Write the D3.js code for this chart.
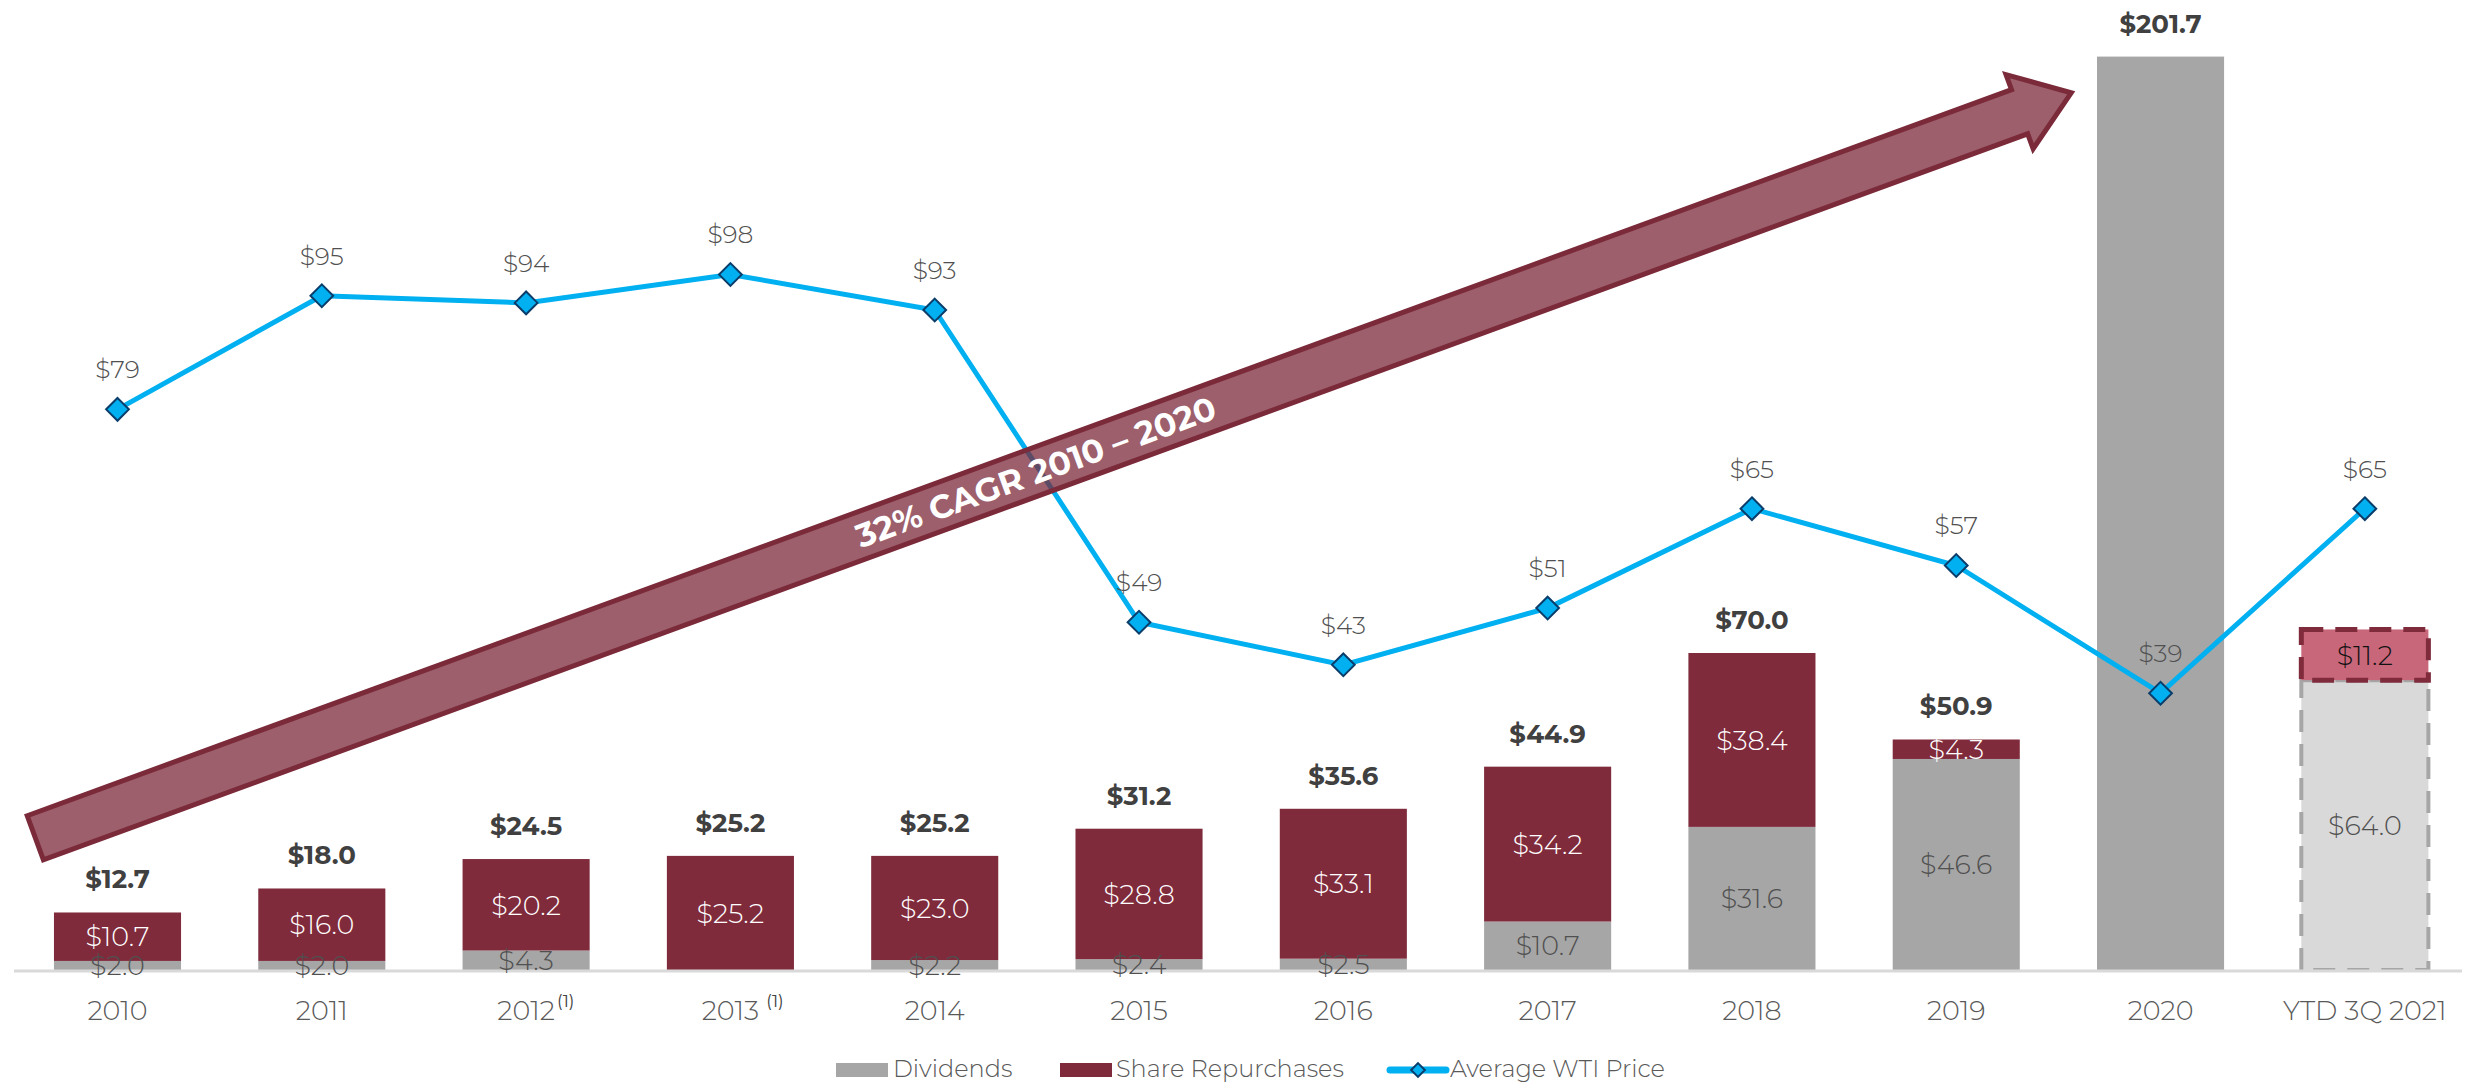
<!DOCTYPE html>
<html>
<head>
<meta charset="utf-8">
<script src="https://cdn.jsdelivr.net/npm/d3@7"></script>
<style>
  body { margin: 0; background: #fff; }
  text { font-family: "Montserrat", "Open Sans", sans-serif; }
</style>
</head>
<body>
<script>
// Capital returned to shareholders ($M) and average WTI price
// ---------------------------------------------
var categories = ['2010', '2011', '2012', '2013', '2014', '2015', '2016',
        '2017', '2018', '2019', '2020', 'YTD 3Q 2021'];
var footnotes = ['', '', '(1)', '(1)', '', '', '', '', '', '', '', ''];
var dividends = [2.0, 2.0, 4.3, 0, 2.2, 2.4, 2.5, 10.7, 31.6, 46.6, 201.7, 64.0];
var repurchases = [10.7, 16.0, 20.2, 25.2, 23.0, 28.8, 33.1, 34.2, 38.4, 4.3, 0, 11.2];
var totals = [12.7, 18.0, 24.5, 25.2, 25.2, 31.2, 35.6, 44.9, 70.0, 50.9, 201.7, null];
var wti = [79, 95, 94, 98, 93, 49, 43, 51, 65, 57, 39, 65];
// which segments carry a value label
var showDividendLabel = [1, 1, 1, 0, 1, 1, 1, 1, 1, 1, 0, 1];
var showRepurchaseLabel = [1, 1, 1, 1, 1, 1, 1, 1, 1, 1, 0, 1];
var cagrText = '32% CAGR 2010 \u2013 2020';

var w = 2468;
var h = 1085;
var baseY = 970;
var topY = 19;

var red = '#7F2B3C';
var gray = '#A6A6A6';
var blue = '#00B0F0';

var svg = d3.select('body').append('svg').attr('width', w).attr('height', h);

var x = d3.scaleBand().domain(categories).range([15.35, 2467]).paddingInner(0.378).paddingOuter(0.189);
var yBar = d3.scaleLinear().domain([0, 210]).range([baseY, topY]);
var yLine = d3.scaleLinear().domain([0, 134]).range([baseY, topY]);

function money(v) { return '$' + v.toFixed(1); }
function cx(i) { return x(categories[i]) + x.bandwidth() / 2; }
var last = categories.length - 1;

// bars
var rows = categories.map(function(c, i) {
    return { c: c, i: i, div: dividends[i], rep: repurchases[i] };
});

svg.selectAll('rect.div').data(rows).enter().append('rect')
.attr('class', 'div')
.attr('x', function(d) { return x(d.c); })
.attr('y', function(d) { return yBar(d.div); })
.attr('width', x.bandwidth())
.attr('height', function(d) { return yBar(0) - yBar(d.div); })
.attr('fill', function(d) { return d.i === last ? '#D9D9D9' : gray; })
.attr('stroke', function(d) { return d.i === last ? gray : 'none'; })
.attr('stroke-width', 4)
.attr('stroke-dasharray', '22,12');

svg.selectAll('rect.rep').data(rows).enter().append('rect')
.attr('class', 'rep')
.attr('x', function(d) { return x(d.c); })
.attr('y', function(d) { return yBar(d.div + d.rep); })
.attr('width', x.bandwidth())
.attr('height', function(d) { return yBar(d.div) - yBar(d.div + d.rep); })
.attr('fill', function(d) { return d.i === last ? '#C9677A' : red; })
.attr('stroke', function(d) { return d.i === last ? red : 'none'; })
.attr('stroke-width', 5)
.attr('stroke-dasharray', '22,12');

// axis line
svg.append('line')
.attr('x1', 14).attr('x2', 2462)
.attr('y1', baseY + 1).attr('y2', baseY + 1)
.attr('stroke', '#D9D9D9').attr('stroke-width', 3);

// WTI line and markers
var line = d3.line()
.x(function(d, i) { return cx(i); })
.y(function(d) { return yLine(d); });

svg.append('path').datum(wti)
.attr('d', line)
.attr('fill', 'none')
.attr('stroke', blue)
.attr('stroke-width', 5);

var diamond = d3.symbol().type(d3.symbolDiamond2).size(330);
svg.selectAll('path.mk').data(wti).enter().append('path')
.attr('class', 'mk')
.attr('d', diamond)
.attr('transform', function(d, i) { return 'translate(' + cx(i) + ',' + yLine(d) + ')'; })
.attr('fill', blue)
.attr('stroke', '#0B3D6B')
.attr('stroke-width', 2);

// CAGR arrow
var tail = [x(categories[0]) - 21, yBar(29)];
var tip = [x(categories[10]) - 22, yBar(194)];
var ang = Math.atan2(tip[1] - tail[1], tip[0] - tail[0]) * 180 / Math.PI;
var L = Math.hypot(tip[0] - tail[0], tip[1] - tail[1]) - 4;
var sh = 23.5, hw = 39.5, hl = 55;
var pts = [[2.5, -sh], [L - hl, -sh], [L - hl, -hw], [L, 0], [L - hl, hw], [L - hl, sh], [2.5, sh]];
var arrow = svg.append('g')
.attr('transform', 'translate(' + tail[0] + ',' + tail[1] + ') rotate(' + ang + ')');
arrow.append('path')
.attr('d', 'M' + pts.join('L') + 'Z')
.attr('fill', 'rgba(123,42,58,0.75)')
.attr('stroke', '#7B2A3A')
.attr('stroke-width', 5)
.attr('stroke-linejoin', 'miter');
arrow.append('text')
.text(cagrText)
.attr('x', L * 0.492)
.attr('y', 0)
.attr('dy', '0.36em')
.attr('text-anchor', 'middle')
.attr('font-size', '33px')
.attr('font-weight', 700)
.attr('fill', 'white');

// segment labels
svg.selectAll('text.divlab').data(rows.filter(function(d) { return showDividendLabel[d.i]; })).enter()
.append('text')
.attr('class', 'divlab')
.text(function(d) { return money(d.div); })
.attr('x', function(d) { return cx(d.i); })
.attr('y', function(d) { return (yBar(0) + yBar(d.div)) / 2; })
.attr('dy', '0.36em')
.attr('text-anchor', 'middle')
.attr('font-size', '27px')
.attr('font-weight', 300)
.attr('fill', '#505050');

svg.selectAll('text.replab').data(rows.filter(function(d) { return showRepurchaseLabel[d.i]; })).enter()
.append('text')
.attr('class', 'replab')
.text(function(d) { return money(d.rep); })
.attr('x', function(d) { return cx(d.i); })
.attr('y', function(d) { return (yBar(d.div) + yBar(d.div + d.rep)) / 2; })
.attr('dy', '0.36em')
.attr('text-anchor', 'middle')
.attr('font-size', '27px')
.attr('font-weight', 300)
.attr('fill', function(d) { return d.i === last ? '#111' : 'white'; });

// totals
svg.selectAll('text.tot').data(rows.filter(function(d) { return totals[d.i] !== null; })).enter()
.append('text')
.attr('class', 'tot')
.text(function(d) { return money(totals[d.i]); })
.attr('x', function(d) { return cx(d.i); })
.attr('y', function(d) { return yBar(totals[d.i]) - 24; })
.attr('text-anchor', 'middle')
.attr('font-size', '26px')
.attr('font-weight', 700)
.attr('fill', '#404040');

// WTI labels
svg.selectAll('text.wti').data(wti).enter()
.append('text')
.attr('class', 'wti')
.text(function(d) { return '$' + d; })
.attr('x', function(d, i) { return cx(i); })
.attr('y', function(d) { return yLine(d) - 31; })
.attr('text-anchor', 'middle')
.attr('font-size', '25px')
.attr('font-weight', 300)
.attr('fill', '#505050');

// category labels
var yr = svg.selectAll('g.yr').data(rows).enter().append('g').attr('class', 'yr');
yr.append('text')
.text(function(d) { return d.c; })
.attr('x', function(d) { return cx(d.i); })
.attr('y', 1020)
.attr('text-anchor', 'middle')
.attr('font-size', '27px')
.attr('font-weight', 300)
.attr('fill', '#595959');
yr.each(function(d) {
    if (!footnotes[d.i]) return;
    var tw = this.querySelector('text').getComputedTextLength();
    d3.select(this).append('text')
    .text(footnotes[d.i])
    .attr('x', cx(d.i) + tw / 2 + (d.i === 3 ? 7 : 2))
    .attr('y', 1007)
    .attr('font-size', '17px')
    .attr('fill', '#404040');
});

// legend
var legend = svg.append('g').attr('transform', 'translate(0,1077)');
legend.append('rect').attr('x', 836).attr('y', -14).attr('width', 52).attr('height', 14).attr('fill', gray);
legend.append('text').text('Dividends').attr('x', 893).attr('font-size', '24px').attr('font-weight', 300).attr('fill', '#595959');
legend.append('rect').attr('x', 1060).attr('y', -14).attr('width', 52).attr('height', 14).attr('fill', red);
legend.append('text').text('Share Repurchases').attr('x', 1116).attr('font-size', '24px').attr('font-weight', 300).attr('fill', '#595959');
legend.append('line').attr('x1', 1390).attr('x2', 1446).attr('y1', -7).attr('y2', -7)
.attr('stroke', blue).attr('stroke-width', 7).attr('stroke-linecap', 'round');
legend.append('path').attr('d', d3.symbol().type(d3.symbolDiamond2).size(120))
.attr('transform', 'translate(1418,-7)').attr('fill', blue).attr('stroke', '#0B3D6B').attr('stroke-width', 2);
legend.append('text').text('Average WTI Price').attr('x', 1450).attr('font-size', '24px').attr('font-weight', 300).attr('fill', '#595959');
</script>
</body>
</html>
